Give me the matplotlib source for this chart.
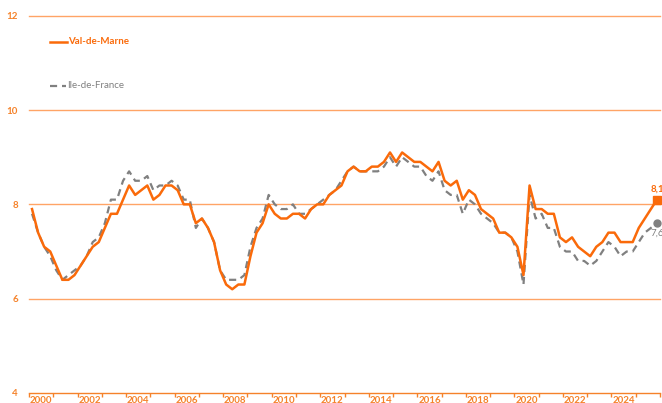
import matplotlib
matplotlib.use("Agg")
import matplotlib.pyplot as plt
import numpy as np

plt.rcParams['font.family'] = ['Lato', 'DejaVu Sans']

# Quarterly unemployment rate, 2000 Q1 .. 2025 Q4
val_de_marne = [
    7.9, 7.4, 7.1, 7.0, 6.7, 6.4, 6.4, 6.5, 6.7, 6.9, 7.1, 7.2, 7.5, 7.8, 7.8, 8.1,
    8.4, 8.2, 8.3, 8.4, 8.1, 8.2, 8.4, 8.4, 8.3, 8.0, 8.0, 7.6, 7.7, 7.5, 7.2, 6.6,
    6.3, 6.2, 6.3, 6.3, 6.9, 7.4, 7.6, 8.0, 7.8, 7.7, 7.7, 7.8, 7.8, 7.7, 7.9, 8.0,
    8.0, 8.2, 8.3, 8.4, 8.7, 8.8, 8.7, 8.7, 8.8, 8.8, 8.9, 9.1, 8.9, 9.1, 9.0, 8.9,
    8.9, 8.8, 8.7, 8.9, 8.5, 8.4, 8.5, 8.1, 8.3, 8.2, 7.9, 7.8, 7.7, 7.4, 7.4, 7.3,
    7.1, 6.5, 8.4, 7.9, 7.9, 7.8, 7.8, 7.3, 7.2, 7.3, 7.1, 7.0, 6.9, 7.1, 7.2, 7.4,
    7.4, 7.2, 7.2, 7.2, 7.5, 7.7, 7.9, 8.1,
]
ile_de_france = [
    7.8, 7.4, 7.1, 6.9, 6.6, 6.4, 6.5, 6.6, 6.7, 6.9, 7.2, 7.3, 7.6, 8.1, 8.1, 8.5,
    8.7, 8.5, 8.5, 8.6, 8.3, 8.4, 8.4, 8.5, 8.4, 8.1, 8.1, 7.5, 7.7, 7.5, 7.2, 6.6,
    6.4, 6.4, 6.4, 6.5, 7.1, 7.5, 7.7, 8.2, 8.0, 7.9, 7.9, 8.0, 7.8, 7.8, 7.9, 8.0,
    8.1, 8.2, 8.3, 8.5, 8.7, 8.8, 8.7, 8.7, 8.7, 8.7, 8.8, 9.0, 8.8, 9.0, 8.9, 8.8,
    8.8, 8.6, 8.5, 8.7, 8.3, 8.2, 8.2, 7.8, 8.1, 8.0, 7.8, 7.7, 7.6, 7.4, 7.4, 7.3,
    7.0, 6.3, 8.2, 7.7, 7.8, 7.5, 7.5, 7.1, 7.0, 7.0, 6.8, 6.8, 6.7, 6.8, 7.0, 7.2,
    7.1, 6.9, 7.0, 7.0, 7.2, 7.4, 7.5, 7.6,
]
years = list(range(2000, 2026))
year_labels = [str(y) if y % 2 == 0 else "" for y in years]
yticks = [4, 6, 8, 10, 12]
series_names = ["Val-de-Marne", "Ile-de-France"]
last_labels = ["8,1", "7,6"]

ORANGE = "#FA6A0A"
AXIS_OR = "#F5822A"
GRID_OR = "#FFA466"
GREY = "#808080"

fig = plt.figure(figsize=(6.62, 4.03), dpi=100)
ax = fig.add_axes([29/662, 10/403, 631/662, 377.3/403])

n = len(val_de_marne)
x = np.arange(n)
ax.set_xlim(-0.5, n - 0.5)
ax.set_ylim(4, 12)

for y in yticks[1:]:
    ax.axhline(y, color=GRID_OR, lw=1.0, zorder=1, clip_on=False)

ax.plot(x, ile_de_france, color=GREY, lw=1.6, ls=(0, (3.2, 2.2)), zorder=3)
ax.plot(x, val_de_marne, color=ORANGE, lw=1.8, zorder=4)

ax.plot(x[-1], val_de_marne[-1], marker='s', ms=6, color=ORANGE, zorder=5, clip_on=False)
ax.plot(x[-1], ile_de_france[-1], marker='o', ms=5, color=GREY, zorder=5, clip_on=False)
ax.text(x[-1] - 1.0, val_de_marne[-1] + 0.12, last_labels[0], color=ORANGE,
        fontsize=7, fontweight='bold', ha='left', va='bottom', clip_on=False)
ax.text(x[-1] - 1.0, ile_de_france[-1] - 0.12, last_labels[1], color=GREY,
        fontsize=7, ha='left', va='top', clip_on=False)

for s in ['top', 'right', 'left']:
    ax.spines[s].set_visible(False)
ax.spines['bottom'].set_color(AXIS_OR)
ax.spines['bottom'].set_linewidth(1.0)

ax.set_yticks(yticks)
ax.set_yticklabels([str(v) for v in yticks])
ax.tick_params(axis='y', length=0, pad=8, labelcolor=AXIS_OR, labelsize=7)
for lab in ax.get_yticklabels():
    lab.set_fontweight('bold')

ax.set_xticks(np.arange(-0.5, n, 4))
ax.set_xticklabels([])
ax.set_xticks(np.arange(1.5, n, 4), minor=True)
ax.set_xticklabels(year_labels, minor=True)
ax.tick_params(axis='x', which='major', length=3, direction='out', color=AXIS_OR, width=1)
ax.tick_params(axis='x', which='minor', length=0, pad=2, labelcolor=AXIS_OR, labelsize=7)
for lab in ax.get_xticklabels(minor=True):
    lab.set_fontweight('bold')

# legend
ax.annotate("", xy=(67/662, 1 - 42/403), xycoords='figure fraction')
fig.lines.append(plt.Line2D([50/662, 67/662], [1 - 42/403, 1 - 42/403],
                            transform=fig.transFigure, color=ORANGE, lw=1.8))
fig.text(68/662, 1 - 42/403, series_names[0], color=ORANGE, fontsize=7,
         fontweight='bold', va='center', ha='left')
fig.lines.append(plt.Line2D([50/662, 66/662], [1 - 86/403, 1 - 86/403],
                            transform=fig.transFigure, color=GREY, lw=1.6,
                            ls=(0, (3.2, 2.2))))
fig.text(67/662, 1 - 86/403, series_names[1], color=GREY, fontsize=7,
         va='center', ha='left')

fig.savefig("out.png", dpi=100)
